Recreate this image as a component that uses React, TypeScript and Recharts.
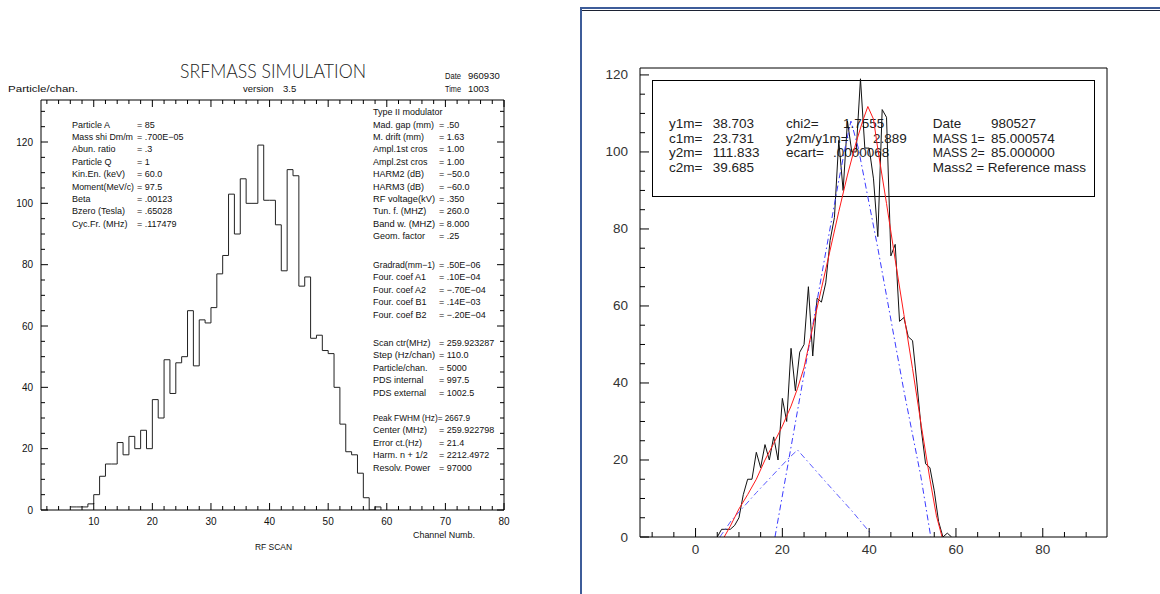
import React from "react";
import { LineChart, Line, XAxis, YAxis } from "recharts";

// left panel: simulated scan, counts per channel (bins start at the channel)
const simChannels = [6, 7, 8, 9, 10, 11, 12, 13, 14, 15, 16, 17, 18, 19, 20, 21, 22, 23, 24, 25, 26, 27, 28, 29, 30, 31, 32, 33, 34, 35, 36, 37, 38, 39, 40, 41, 42, 43, 44, 45, 46, 47, 48, 49, 50, 51, 52, 53, 54, 55, 56, 57, 58, 59];
const simCounts = [1, 1, 1, 2, 5, 11, 15, 15, 22, 18, 24, 20, 26, 20, 36, 30, 49, 38, 48, 50, 65, 47, 62, 61, 66, 77, 83, 103, 90, 108, 100, 100, 119, 101, 101, 93, 78, 111, 109, 73, 76, 56, 57, 52, 51, 40, 28, 19, 18, 12, 4, 0, 1, 0];

// right panel: measured spectrum
const measChannels = [5, 6, 7, 8, 9, 10, 11, 12, 13, 14, 15, 16, 17, 18, 19, 20, 21, 22, 23, 24, 25, 26, 27, 28, 29, 30, 31, 32, 33, 34, 35, 36, 37, 38, 39, 40, 41, 42, 43, 44, 45, 46, 47, 48, 49, 50, 51, 52, 53, 54, 55, 56, 57, 58, 59];
const measCounts = [0, 2, 2, 2, 3, 5, 11, 15, 15, 22, 18, 24, 20, 26, 20, 36, 30, 49, 38, 48, 50, 65, 47, 62, 61, 66, 77, 83, 103, 90, 108, 100, 100, 119, 101, 101, 93, 78, 111, 109, 73, 76, 56, 57, 52, 51, 40, 28, 19, 18, 12, 4, 0, 1, 0];

// fitted sum (red)
const fitX = [6.6, 8, 10, 12, 14, 16, 18, 20, 22, 23.5, 25, 27, 29, 31, 33, 35, 37, 38.5, 39.7, 41, 42, 44, 46, 48, 50, 52, 54, 55.5, 56.8];
const fitY = [0, 2.8, 7.3, 11, 15, 20, 24.3, 28.8, 34, 38.6, 44, 54.5, 64.5, 74.5, 84.5, 94, 102.5, 108, 111.8, 108.5, 100.7, 86.6, 72, 57.8, 43.7, 29, 15, 5.5, 0];

// components (blue dash-dot)
const peak1X = [5.6, 8.2, 14, 21.5, 23.5, 30, 36, 40.3];
const peak1Y = [0, 4.2, 11.5, 20.5, 22.6, 14.3, 6.8, 1];
const peak2X = [18.3, 24, 30, 33, 34.8, 35.8, 37.5, 42, 48, 51.9, 54.2];
const peak2Y = [0, 36, 74, 92.6, 103, 108, 101, 75, 38, 15.8, 0];

const simXTicks = [2, 4, 6, 8, 10, 12, 14, 16, 18, 20, 22, 24, 26, 28, 30, 32, 34, 36, 38, 40, 42, 44, 46, 48, 50, 52, 54, 56, 58, 60, 62, 64, 66, 68, 70, 72, 74, 76, 78, 80];
const simYTicks = [0, 5, 10, 15, 20, 25, 30, 35, 40, 45, 50, 55, 60, 65, 70, 75, 80, 85, 90, 95, 100, 105, 110, 115, 120, 125, 130];
const measXTicks = [-10, -5, 0, 5, 10, 15, 20, 25, 30, 35, 40, 45, 50, 55, 60, 65, 70, 75, 80, 85, 90];
const measYTicks = [0, 5, 10, 15, 20, 25, 30, 35, 40, 45, 50, 55, 60, 65, 70, 75, 80, 85, 90, 95, 100, 105, 110, 115, 120];

// [label, value, squeezed label width]
const simParams: [string, string, number?][] = [
  ["Particle   A", "= 85"],
  ["Mass shi Dm/m", "= .700E−05", 61],
  ["Abun. ratio", "= .3"],
  ["Particle   Q", "= 1"],
  ["Kin.En. (keV)", "= 60.0"],
  ["Moment(MeV/c)", "= 97.5", 62],
  ["Beta", "= .00123"],
  ["Bzero (Tesla)", "= .65028"],
  ["Cyc.Fr. (MHz)", "= .117479"],
];
const modulatorParams: [string, string, number?][] = [
  ["Mad. gap (mm)", "= .50"],
  ["M. drift (mm)", "= 1.63"],
  ["Ampl.1st cros", "= 1.00"],
  ["Ampl.2st cros", "= 1.00"],
  ["HARM2 (dB)", "= −50.0"],
  ["HARM3 (dB)", "= −60.0"],
  ["RF voltage(kV)", "= .350", 62],
  ["Tun. f. (MHZ)", "= 260.0"],
  ["Band w. (MHZ)", "= 8.000", 62],
  ["Geom. factor", "= .25"],
];
const fieldParams: [string, string, number?][] = [
  ["Gradrad(mm−1)", "= .50E−06", 62],
  ["Four. coef A1", "= .10E−04"],
  ["Four. coef A2", "= −.70E−04"],
  ["Four. coef B1", "= .14E−03"],
  ["Four. coef B2", "= −.20E−04"],
];
const scanParams: [string, string, number?][] = [
  ["Scan ctr(MHz)", "= 259.923287"],
  ["Step (Hz/chan)", "= 110.0", 62],
  ["Particle/chan.", "= 5000"],
  ["PDS internal", "= 997.5"],
  ["PDS external", "= 1002.5"],
];
const resultParams: [string, string, number?][] = [
  ["Peak FWHM (Hz)= 2667.9", "", 97],
  ["Center (MHz)", "= 259.922798"],
  ["Error ct.(Hz)", "= 21.4"],
  ["Harm. n + 1/2", "= 2212.4972"],
  ["Resolv. Power", "= 97000"],
];

const fitCol1 = [["y1m=", "38.703"], ["c1m=", "23.731"], ["y2m=", "111.833"], ["c2m=", "39.685"]];
const fitCol2 = [["chi2=", "1.7555", 843], ["y2m/y1m=", "2.889", 873], ["ecart=", ".0000068", 833]];
const fitCol3 = [["Date", "980527"], ["MASS 1=", "85.000574"], ["MASS 2=", "85.000000"], ["Mass2 = Reference mass", ""]];

type Side = "bottom" | "top" | "left" | "right";
interface TickStyle {
  side: Side;
  every: number;
  majorLen: number;
  minorLen: number;
  label: boolean;
  gap?: number;
  size?: number;
  color?: string;
  font?: string;
}

function makeTick(s: TickStyle) {
  return function AxisTick(props: any) {
    const { x, y, payload } = props;
    const v = Number(payload.value);
    const r = v / s.every;
    const major = Math.abs(r - Math.round(r)) < 1e-6;
    const len = major ? s.majorLen : s.minorLen;
    let x2 = x, y2 = y, tx = x, ty = y;
    let anchor = "middle";
    if (s.side === "bottom") { y2 = y - len; ty = y + (s.gap || 0); }
    else if (s.side === "top") { y2 = y + len; }
    else if (s.side === "left") { x2 = x + len; tx = x - (s.gap || 0); anchor = "end"; }
    else { x2 = x - len; }
    return (
      <g>
        <line x1={x} y1={y} x2={x2} y2={y2} stroke="#000" strokeWidth={1} />
        {s.label && major ? (
          <text x={tx} y={ty} textAnchor={anchor as any} dominantBaseline="central"
            fontSize={s.size} fontFamily={s.font} fill={s.color}>{v}</text>
        ) : null}
      </g>
    );
  };
}

const hfont = "'Liberation Sans', Arial, sans-serif";
const ink = "#111";

const simData = simChannels.map((ch, i) => ({ ch, n: simCounts[i] }));
const measData = measChannels.map((x, i) => ({ x, y: measCounts[i] }));
const fitData = fitX.map((x, i) => ({ x, y: fitY[i] }));
const peak1Data = peak1X.map((x, i) => ({ x, y: peak1Y[i] }));
const peak2Data = peak2X.map((x, i) => ({ x, y: peak2Y[i] }));

function ParamRows({ rows, x, eqX, y0, step }: { rows: [string, string, number?][]; x: number; eqX: number; y0: number; step: number }) {
  return (
    <g fontSize={9} fontFamily={hfont} fill={ink}>
      {rows.map((r, i) => (
        <g key={i}>
          {r[2] ? (
            <text x={x} y={y0 + i * step} dominantBaseline="central" textLength={r[2]} lengthAdjust="spacingAndGlyphs">{r[0]}</text>
          ) : (
            <text x={x} y={y0 + i * step} dominantBaseline="central">{r[0]}</text>
          )}
          {r[1] ? <text x={eqX} y={y0 + i * step} dominantBaseline="central">{r[1]}</text> : null}
        </g>
      ))}
    </g>
  );
}

function Backdrop() {
  const step = 12.4;
  return (
    <svg width={1160} height={594} style={{ position: "absolute", left: 0, top: 0 }}>
      <rect x={0} y={0} width={1160} height={594} fill="#fff" />
      {/* left panel headers */}
      <text x={180} y={70} fontSize={19} fontFamily="Lato, 'Liberation Sans', sans-serif" fontWeight={300}
        textLength={186} lengthAdjust="spacingAndGlyphs" dominantBaseline="central" fill="#222">SRFMASS SIMULATION</text>
      <g fontSize={9.5} fontFamily={hfont} fill={ink}>
        <text x={243} y={88} dominantBaseline="central">version</text>
        <text x={283} y={88} dominantBaseline="central">3.5</text>
        <text x={8} y={88} dominantBaseline="central" textLength={70} lengthAdjust="spacingAndGlyphs">Particle/chan.</text>
        <text x={445} y={75} dominantBaseline="central" textLength={16} lengthAdjust="spacingAndGlyphs">Date</text>
        <text x={468} y={75} dominantBaseline="central">960930</text>
        <text x={445} y={88} dominantBaseline="central" textLength={16} lengthAdjust="spacingAndGlyphs">Time</text>
        <text x={468} y={88} dominantBaseline="central">1003</text>
        <text x={413} y={534} dominantBaseline="central" textLength={62} lengthAdjust="spacingAndGlyphs">Channel Numb.</text>
        <text x={255} y={546} dominantBaseline="central" textLength={37} lengthAdjust="spacingAndGlyphs">RF SCAN</text>
      </g>
      <ParamRows rows={simParams} x={72} eqX={137} y0={124.5} step={step} />
      <text x={373} y={112} fontSize={9} fontFamily={hfont} fill={ink} dominantBaseline="central">Type II modulator</text>
      <ParamRows rows={modulatorParams} x={373} eqX={439} y0={124.5} step={step} />
      <ParamRows rows={fieldParams} x={373} eqX={439} y0={265} step={step} />
      <ParamRows rows={scanParams} x={373} eqX={439} y0={343} step={step} />
      <ParamRows rows={resultParams} x={373} eqX={439} y0={418} step={step} />

      {/* right panel window frame */}
      <line x1={580} y1={8} x2={1160} y2={8} stroke="#3d5c99" strokeWidth={2} />
      <line x1={582} y1={10.5} x2={1160} y2={10.5} stroke="#1c2233" strokeWidth={1} />
      <line x1={581} y1={8} x2={581} y2={594} stroke="#3d5c99" strokeWidth={2} />

      {/* fit result box */}
      <rect x={652.5} y={80.5} width={442} height={116} fill="none" stroke="#000" strokeWidth={1} />
      <g fontSize={13.5} fontFamily={hfont} fill="#222">
        {fitCol1.map((r, i) => (
          <g key={"a" + i}>
            <text x={669} y={123.3 + i * 14.8} dominantBaseline="central">{r[0]}</text>
            <text x={712.7} y={123.3 + i * 14.8} dominantBaseline="central">{r[1]}</text>
          </g>
        ))}
        {fitCol2.map((r, i) => (
          <g key={"b" + i}>
            <text x={786} y={123.3 + i * 14.8} dominantBaseline="central">{r[0]}</text>
            <text x={r[2] as number} y={123.3 + i * 14.8} dominantBaseline="central">{r[1]}</text>
          </g>
        ))}
        {fitCol3.map((r, i) => (
          <g key={"c" + i}>
            {r[0].startsWith("MASS ") ? (
              <text x={932.7} y={123.3 + i * 14.8} dominantBaseline="central" textLength={52} lengthAdjust="spacingAndGlyphs">{r[0]}</text>
            ) : (
              <text x={932.7} y={123.3 + i * 14.8} dominantBaseline="central">{r[0]}</text>
            )}
            {r[1] ? <text x={991} y={123.3 + i * 14.8} dominantBaseline="central">{r[1]}</text> : null}
          </g>
        ))}
      </g>
    </svg>
  );
}

const smallFont = { size: 10, font: hfont, color: ink };
const bigFont = { size: 13.5, font: hfont, color: "#333" };

// axes get 1px of room each (an axis of zero size is not drawn)
function SimChart() {
  return (
    <LineChart width={580} height={594} data={simData} margin={{ top: 99, right: 75, bottom: 83, left: 40 }}
      style={{ position: "absolute", left: 0, top: 0 }}>
      <XAxis xAxisId="b" dataKey="ch" type="number" domain={[1, 80]} allowDataOverflow ticks={simXTicks}
        interval={0} height={1} tickSize={0} tickMargin={0} tickLine={false} axisLine={{ stroke: "#000" }}
        tick={makeTick({ side: "bottom", every: 10, majorLen: 7, minorLen: 4, label: true, gap: 11, ...smallFont })} />
      <XAxis xAxisId="t" orientation="top" dataKey="ch" type="number" domain={[1, 80]} allowDataOverflow ticks={simXTicks}
        interval={0} height={1} tickSize={0} tickMargin={0} tickLine={false} axisLine={{ stroke: "#000" }}
        tick={makeTick({ side: "top", every: 10, majorLen: 7, minorLen: 4, label: false })} />
      <YAxis yAxisId="l" type="number" domain={[0, 133.7]} allowDataOverflow ticks={simYTicks}
        interval={0} width={1} tickSize={0} tickMargin={0} tickLine={false} axisLine={{ stroke: "#000" }}
        tick={makeTick({ side: "left", every: 20, majorLen: 7, minorLen: 4, label: true, gap: 8, ...smallFont })} />
      <YAxis yAxisId="r" orientation="right" type="number" domain={[0, 133.7]} allowDataOverflow ticks={simYTicks}
        interval={0} width={1} tickSize={0} tickMargin={0} tickLine={false} axisLine={{ stroke: "#000" }}
        tick={makeTick({ side: "right", every: 20, majorLen: 7, minorLen: 4, label: false })} />
      <Line xAxisId="b" yAxisId="l" type="stepAfter" dataKey="n" stroke="#222" strokeWidth={1}
        dot={false} isAnimationActive={false} />
    </LineChart>
  );
}

function FitChart() {
  return (
    <LineChart width={580} height={594} margin={{ top: 67, right: 52, bottom: 56, left: 59 }}
      style={{ position: "absolute", left: 580, top: 0 }}>
      <XAxis xAxisId="b" dataKey="x" type="number" domain={[-12.8, 94.8]} allowDataOverflow ticks={measXTicks}
        interval={0} height={1} tickSize={0} tickMargin={0} tickLine={false} axisLine={{ stroke: "#000" }}
        tick={makeTick({ side: "bottom", every: 20, majorLen: 9, minorLen: 5, label: true, gap: 12, ...bigFont })} />
      <XAxis xAxisId="t" orientation="top" dataKey="x" type="number" domain={[-12.8, 94.8]} allowDataOverflow
        ticks={measXTicks} interval={0} height={1} tickSize={0} tickMargin={0} tickLine={false}
        axisLine={{ stroke: "#000" }} tick={() => <g />} />
      <YAxis yAxisId="l" type="number" domain={[0, 121.8]} allowDataOverflow ticks={measYTicks}
        interval={0} width={1} tickSize={0} tickMargin={0} tickLine={false} axisLine={{ stroke: "#000" }}
        tick={makeTick({ side: "left", every: 20, majorLen: 9, minorLen: 5, label: true, gap: 12, ...bigFont })} />
      <YAxis yAxisId="r" orientation="right" type="number" domain={[0, 121.8]} allowDataOverflow
        ticks={measYTicks} interval={0} width={1} tickSize={0} tickMargin={0} tickLine={false}
        axisLine={{ stroke: "#000" }} tick={() => <g />} />
      <Line xAxisId="b" yAxisId="l" data={measData} dataKey="y" type="linear" stroke="#111" strokeWidth={1}
        dot={false} isAnimationActive={false} />
      <Line xAxisId="b" yAxisId="l" data={peak1Data} dataKey="y" type="linear" stroke="#5a5aff" strokeWidth={1}
        strokeDasharray="6 3 1.5 3" dot={false} isAnimationActive={false} />
      <Line xAxisId="b" yAxisId="l" data={peak2Data} dataKey="y" type="linear" stroke="#3a3aff" strokeWidth={1}
        strokeDasharray="6 3 1.5 3" dot={false} isAnimationActive={false} />
      <Line xAxisId="b" yAxisId="l" data={fitData} dataKey="y" type="linear" stroke="#ff1a1a" strokeWidth={1}
        dot={false} isAnimationActive={false} />
    </LineChart>
  );
}

export default function App() {
  return (
    <div style={{ position: "absolute", left: 0, top: 0, width: 1160, height: 594, overflow: "hidden", background: "#fff" }}>
      <Backdrop />
      <SimChart />
      <FitChart />
    </div>
  );
}
